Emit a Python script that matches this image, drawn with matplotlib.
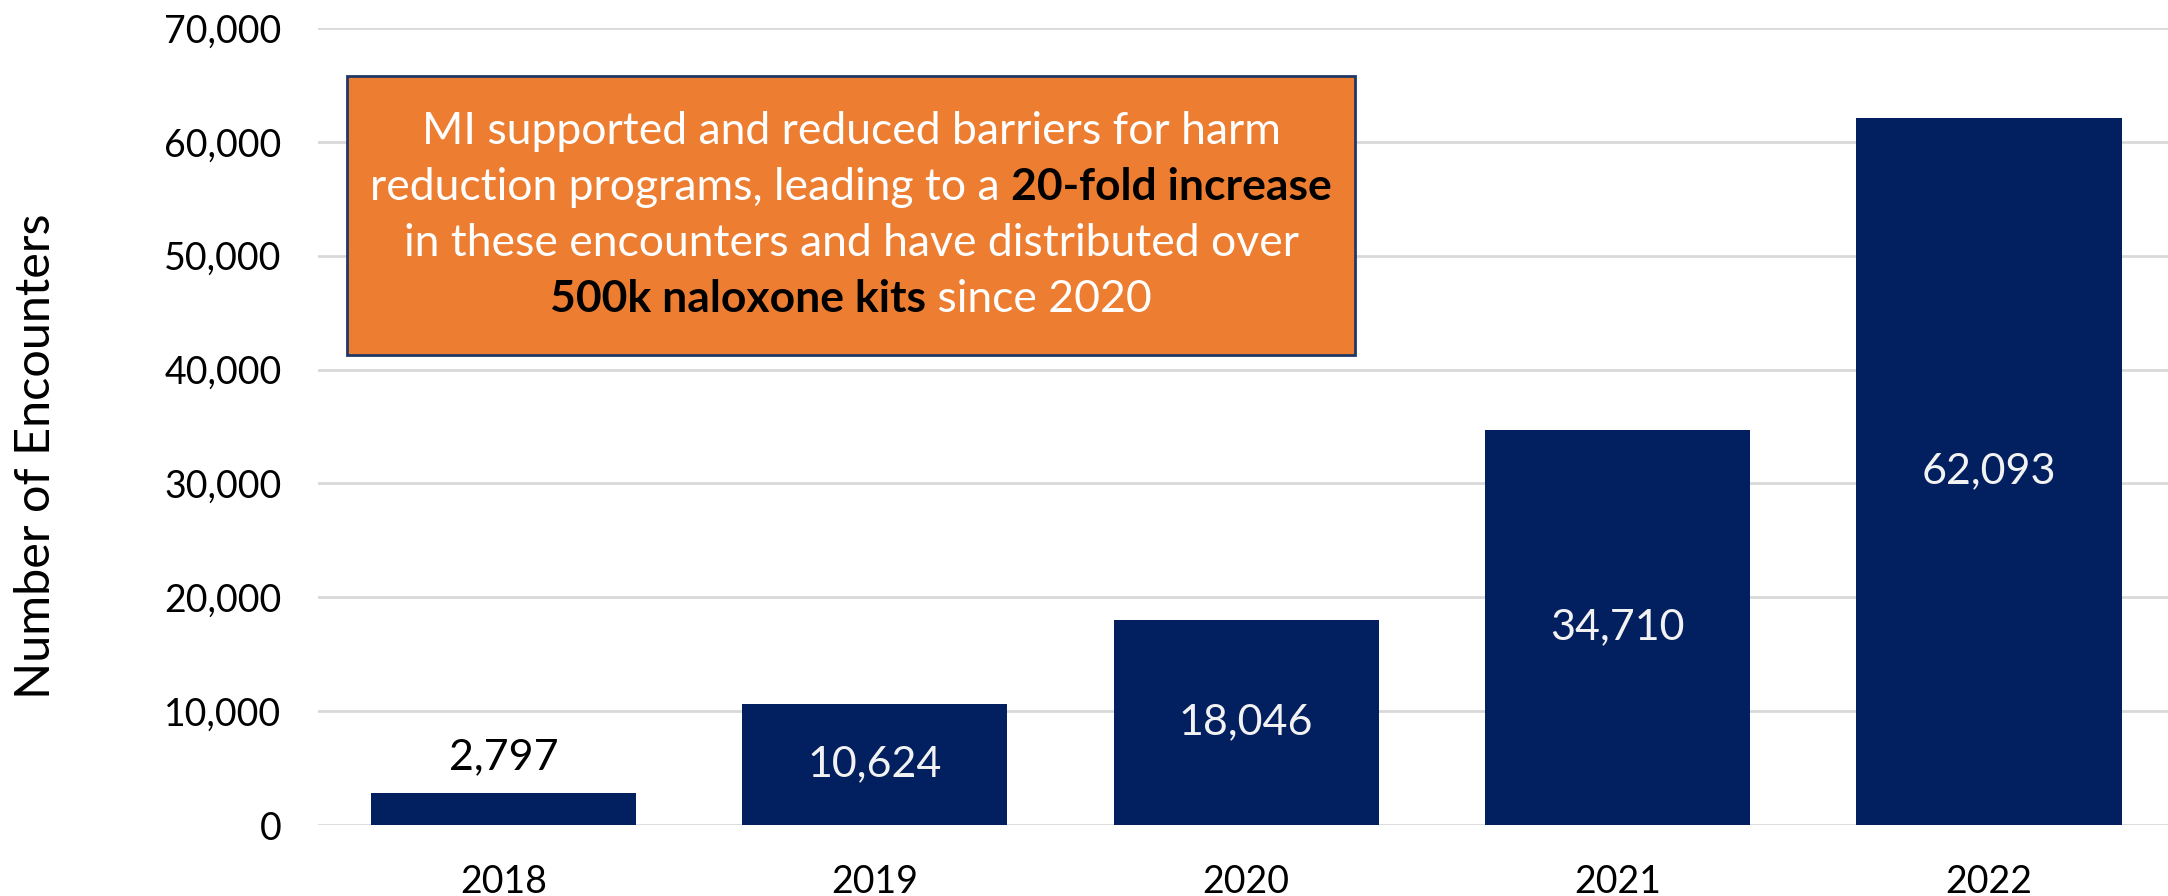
import matplotlib
matplotlib.use("Agg")
import matplotlib.pyplot as plt
from matplotlib.patches import Rectangle
from matplotlib.offsetbox import TextArea, HPacker, VPacker, AnnotationBbox
from matplotlib.ticker import FuncFormatter

years = ["2018", "2019", "2020", "2021", "2022"]
encounters = [2797, 10624, 18046, 34710, 62093]

note_lines = [
    [("MI supported and reduced barriers for harm", False)],
    [("reduction programs, leading to a ", False), ("20-fold increase", True)],
    [("in these encounters and have distributed over", False)],
    [("500k naloxone kits", True), (" since 2020", False)],
]

FONT = "Lato"
NAVY = "#02205F"
ORANGE = "#ED7D31"

plt.rcParams["font.family"] = FONT

fig = plt.figure(figsize=(21.68, 8.96), dpi=100)
ax = fig.add_axes([0.1465, 0.0792, 0.8566, 0.8896])

x = range(len(years))
bars = ax.bar(x, encounters, width=0.714, color=NAVY, zorder=3)

ax.set_xlim(-0.5, 4.5)
ax.set_ylim(0, 70000)
ax.set_yticks(range(0, 70001, 10000))
ax.yaxis.set_major_formatter(FuncFormatter(lambda v, p: f"{int(v):,}"))
ax.set_xticks(list(x))
ax.set_xticklabels(years)
ax.grid(axis="y", color="#D9D9D9", linewidth=2, zorder=0)
for s in ax.spines.values():
    s.set_visible(False)
ax.tick_params(axis="both", length=0, labelsize=27, colors="black")
ax.tick_params(axis="y", pad=26)
ax.tick_params(axis="x", pad=28)
ax.set_ylabel("Number of Encounters", fontsize=35)
ax.yaxis.set_label_coords(-0.140, 0.463)

# value labels: centred in the bar, or above it when the bar is too short
for rect, v in zip(bars, encounters):
    cx = rect.get_x() + rect.get_width() / 2
    if v < 5000:
        ax.annotate(f"{v:,}", (cx, v), xytext=(0, 12), textcoords="offset points",
                    ha="center", va="bottom", fontsize=31, color="black")
    else:
        ax.text(cx, v / 2, f"{v:,}", ha="center", va="center",
                fontsize=31, color="#F2F2F2", zorder=4)

# annotation box
ax.add_patch(Rectangle((-0.42, 41280), 2.714, 24500, facecolor=ORANGE,
                       edgecolor="#1F3864", linewidth=2, zorder=5))
rows = []
for line in note_lines:
    parts = [TextArea(t, textprops=dict(fontsize=32, color="black" if b else "white",
                                        fontweight="bold" if b else "normal", family=FONT))
             for t, b in line]
    rows.append(HPacker(children=parts, align="baseline", pad=0, sep=0))
block = VPacker(children=rows, align="center", pad=0, sep=11)
ab = AnnotationBbox(block, (-0.42 + 2.714 / 2, 41280 + 24500 / 2), frameon=False,
                    box_alignment=(0.5, 0.5), zorder=6)
ax.add_artist(ab)

fig.savefig("out.png", dpi=100)
